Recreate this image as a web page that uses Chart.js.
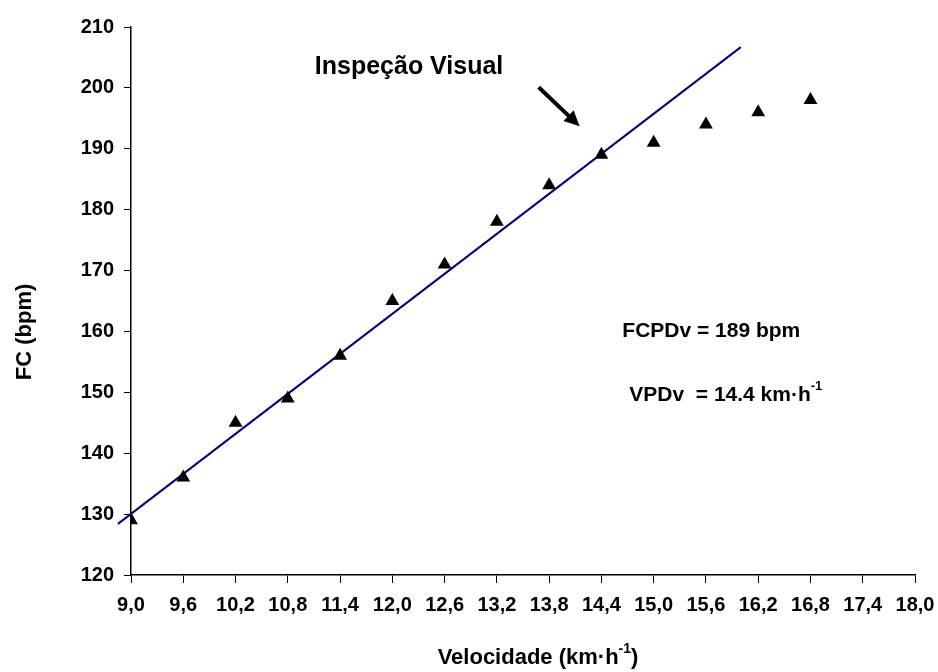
<!DOCTYPE html>
<html>
<head>
<meta charset="utf-8">
<script src="https://cdn.jsdelivr.net/npm/chart.js@4/dist/chart.umd.min.js"></script>
<style>
  body { margin: 0; background: #fff; }
  #wrap { width: 938px; height: 672px; }
</style>
</head>
<body>
<div id="wrap"><canvas id="chart" width="938" height="672"></canvas></div>
<script>
// Data
const speeds = [9.0, 9.6, 10.2, 10.8, 11.4, 12.0, 12.6, 13.2, 13.8, 14.4, 15.0, 15.6, 16.2, 16.8];
const heartRates = [129, 136, 145, 149, 156, 165, 171, 178, 184, 189, 191, 194, 196, 198];
const fitLineX = [8.85, 16.0];
const fitLineY = [128.4, 206.7];
const xTicks = [9.0, 9.6, 10.2, 10.8, 11.4, 12.0, 12.6, 13.2, 13.8, 14.4, 15.0, 15.6, 16.2, 16.8, 17.4, 18.0];
const yTicks = [120, 130, 140, 150, 160, 170, 180, 190, 200, 210];
const arrowFrom = [13.68, 200.1];
const arrowTo = [14.15, 193.7];

const FONT = '"Liberation Sans", Arial, sans-serif';
Chart.defaults.font.family = FONT;
Chart.defaults.color = "#000";

// draw text with optional superscript parts
function drawParts(ctx, parts, x, y, size, align) {
  const main = `bold ${size}px ${FONT}`;
  const small = `bold ${Math.round(size * 0.62)}px ${FONT}`;
  let total = 0;
  parts.forEach(p => {
    ctx.font = p.sup ? small : main;
    total += ctx.measureText(p.t).width;
  });
  let cx = align === "center" ? x - total / 2 : x;
  ctx.textAlign = "left";
  ctx.textBaseline = "middle";
  parts.forEach(p => {
    ctx.font = p.sup ? small : main;
    ctx.fillText(p.t, cx, p.sup ? y - size * 0.38 : y);
    cx += ctx.measureText(p.t).width;
  });
}

const annotations = {
  id: "annotations",
  afterDatasetsDraw(chart) {
    const { ctx, scales: { x, y } } = chart;
    ctx.save();
    ctx.fillStyle = "#000";

    drawParts(ctx, [{ t: "Inspeção Visual" }], x.getPixelForValue(11.11), y.getPixelForValue(203.4), 25, "left");
    drawParts(ctx, [{ t: "FCPDv = 189 bpm" }], x.getPixelForValue(14.64), y.getPixelForValue(160.1), 21, "left");
    drawParts(ctx, [{ t: "VPDv  = 14.4 km·h" }, { t: "-1", sup: true }], x.getPixelForValue(14.72), y.getPixelForValue(149.6), 21, "left");

    // arrow
    const x1 = x.getPixelForValue(arrowFrom[0]), y1 = y.getPixelForValue(arrowFrom[1]);
    const x2 = x.getPixelForValue(arrowTo[0]), y2 = y.getPixelForValue(arrowTo[1]);
    const ang = Math.atan2(y2 - y1, x2 - x1);
    const head = 17;
    ctx.strokeStyle = "#000";
    ctx.lineWidth = 4;
    ctx.beginPath();
    ctx.moveTo(x1, y1);
    ctx.lineTo(x2 - Math.cos(ang) * head * 0.8, y2 - Math.sin(ang) * head * 0.8);
    ctx.stroke();
    ctx.beginPath();
    ctx.moveTo(x2, y2);
    ctx.lineTo(x2 - head * Math.cos(ang - 0.45), y2 - head * Math.sin(ang - 0.45));
    ctx.lineTo(x2 - head * Math.cos(ang + 0.45), y2 - head * Math.sin(ang + 0.45));
    ctx.closePath();
    ctx.fill();

    // axis titles
    drawParts(ctx, [{ t: "Velocidade (km·h" }, { t: "-1", sup: true }, { t: ")" }], 538, 658, 22, "center");
    ctx.translate(25, 332);
    ctx.rotate(-Math.PI / 2);
    drawParts(ctx, [{ t: "FC (bpm)" }], 0, 0, 22, "center");
    ctx.restore();
  }
};

new Chart(document.getElementById("chart"), {
  type: "scatter",
  data: {
    datasets: [
      {
        data: speeds.map((s, i) => ({ x: s, y: heartRates[i] })),
        pointStyle: "triangle",
        pointRadius: 8,
        backgroundColor: "#000",
        borderColor: "#000",
        borderWidth: 0,
        order: 1
      },
      {
        type: "line",
        data: fitLineX.map((v, i) => ({ x: v, y: fitLineY[i] })),
        borderColor: "#00007f",
        borderWidth: 2,
        pointRadius: 0,
        showLine: true,
        fill: false,
        clip: false,
        order: 2
      }
    ]
  },
  options: {
    responsive: false,
    animation: false,
    layout: { padding: { top: 27, right: 0, left: 0, bottom: 0 } },
    plugins: { legend: { display: false }, tooltip: { enabled: false } },
    scales: {
      x: {
        type: "linear",
        min: 9,
        max: 18,
        afterBuildTicks: scale => { scale.ticks = xTicks.map(v => ({ value: v })); },
        afterFit: scale => { scale.height = 97; scale.paddingRight = 23; scale.paddingLeft = 0; },
        grid: { drawOnChartArea: false, drawTicks: true, tickLength: 8, color: "#000" },
        border: { display: true, color: "#000", width: 1.5 },
        ticks: {
          font: { size: 20, weight: "bold" },
          padding: 10,
          maxRotation: 0,
          autoSkip: false,
          callback: v => v.toFixed(1).replace(".", ",")
        }
      },
      y: {
        min: 120,
        max: 210,
        afterBuildTicks: scale => { scale.ticks = yTicks.map(v => ({ value: v })); },
        afterFit: scale => { scale.width = 131; },
        grid: { drawOnChartArea: false, drawTicks: true, tickLength: 7, color: "#000" },
        border: { display: true, color: "#000", width: 1.5 },
        ticks: { font: { size: 20, weight: "bold" }, padding: 10 }
      }
    }
  },
  plugins: [annotations]
});
</script>
</body>
</html>
